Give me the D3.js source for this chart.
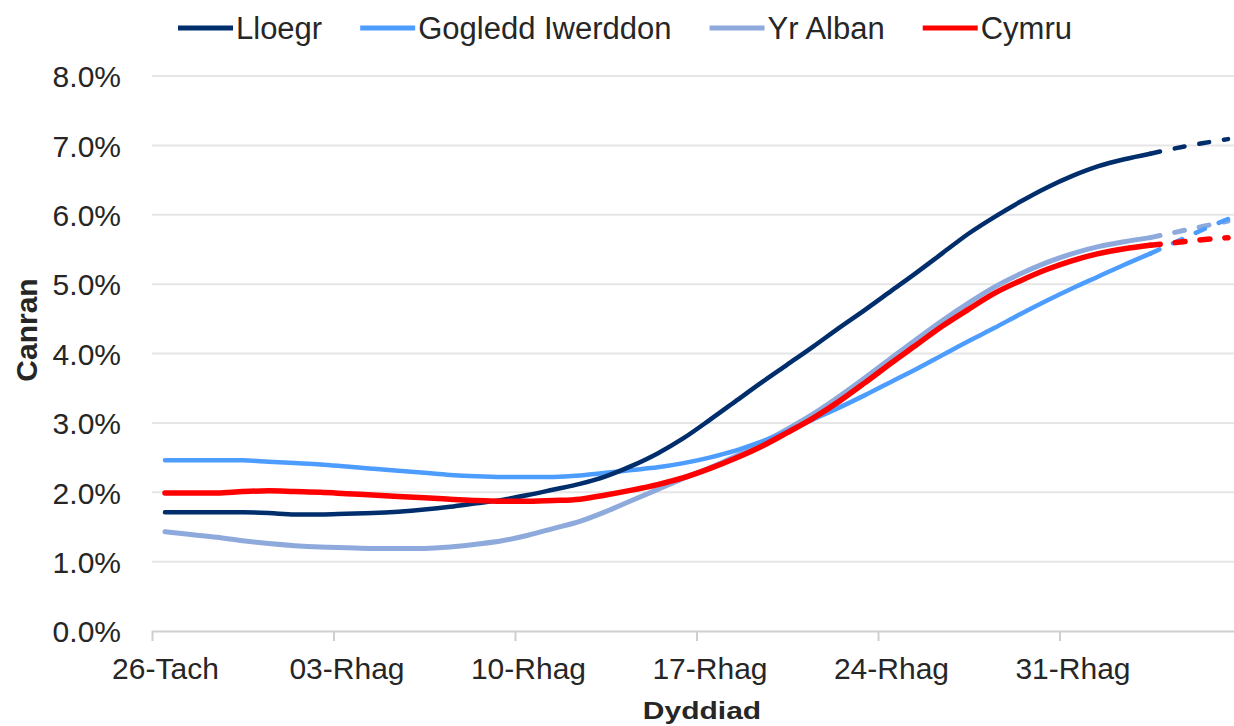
<!DOCTYPE html>
<html lang="cy">
<head>
<meta charset="UTF-8">
<title>Canran yn ôl gwlad</title>
<script src="https://d3js.org/d3.v7.min.js"></script>
<style>
  body { margin: 0; background: #fff; }
  svg text { font-family: "Liberation Sans", Arial, sans-serif; fill: #262626; }
  .grid line { stroke: #e6e6e6; stroke-width: 2; }
  .x-axis .domain { stroke: #cfcfcf; stroke-width: 2; }
  .x-axis .tick line { stroke: #cfcfcf; stroke-width: 2; }
  .axis text { font-size: 30px; }
  .title { font-size: 30px; font-weight: bold; }
  .legend text { font-size: 31px; }
</style>
</head>
<body>
<div id="chart"></div>
<script>
// one value per day, starting 26 Nov; the last values are projections (dashed)
const tickLabels = ["26-Tach", "03-Rhag", "10-Rhag", "17-Rhag", "24-Rhag", "31-Rhag"];
const seriesNames = ["Lloegr", "Gogledd Iwerddon", "Yr Alban", "Cymru"];
const projectionStart = 38;

const lloegr = [1.71, 1.71, 1.71, 1.71, 1.70, 1.68, 1.68, 1.69, 1.70, 1.72,
  1.75, 1.79, 1.84, 1.89, 1.96, 2.04, 2.12, 2.23, 2.38, 2.56,
  2.78, 3.04, 3.31, 3.58, 3.84, 4.10, 4.37, 4.63, 4.90, 5.17,
  5.45, 5.73, 5.97, 6.19, 6.39, 6.56, 6.70, 6.80, 6.88, 6.96,
  7.03, 7.09];
const gogleddIwerddon = [2.46, 2.46, 2.46, 2.46, 2.44, 2.42, 2.40, 2.37, 2.34, 2.31,
  2.28, 2.25, 2.23, 2.22, 2.22, 2.22, 2.24, 2.28, 2.32, 2.36,
  2.42, 2.50, 2.60, 2.73, 2.88, 3.05, 3.22, 3.40, 3.59, 3.78,
  3.98, 4.18, 4.37, 4.57, 4.76, 4.94, 5.11, 5.28, 5.44, 5.61,
  5.78, 5.94];
const yrAlban = [1.43, 1.39, 1.35, 1.30, 1.26, 1.23, 1.21, 1.20, 1.19, 1.19,
  1.19, 1.21, 1.25, 1.30, 1.38, 1.48, 1.58, 1.72, 1.88, 2.04,
  2.20, 2.35, 2.52, 2.71, 2.91, 3.13, 3.38, 3.65, 3.93, 4.21,
  4.48, 4.73, 4.96, 5.15, 5.31, 5.44, 5.54, 5.61, 5.67, 5.75,
  5.83, 5.91];
const cymru = [1.99, 1.99, 1.99, 2.01, 2.02, 2.01, 2.00, 1.98, 1.96, 1.94,
  1.92, 1.90, 1.88, 1.87, 1.87, 1.88, 1.90, 1.96, 2.03, 2.11,
  2.21, 2.34, 2.49, 2.66, 2.86, 3.07, 3.31, 3.58, 3.86, 4.13,
  4.40, 4.64, 4.87, 5.05, 5.21, 5.34, 5.44, 5.51, 5.56, 5.60,
  5.64, 5.67];

const colors = {
  "Lloegr": "#002d6b",
  "Gogledd Iwerddon": "#4d9dff",
  "Yr Alban": "#8eaadc",
  "Cymru": "#ff0000"
};
const widths = { "Lloegr": 4.5, "Gogledd Iwerddon": 4.5, "Yr Alban": 5, "Cymru": 5.5 };

const seriesData = {
  "Lloegr": lloegr,
  "Gogledd Iwerddon": gogleddIwerddon,
  "Yr Alban": yrAlban,
  "Cymru": cymru
};
// draw order: Cymru on top
const drawOrder = ["Yr Alban", "Gogledd Iwerddon", "Lloegr", "Cymru"];

const W = 1234, H = 726;
const svg = d3.select("#chart").append("svg")
    .attr("width", W)
    .attr("height", H);

const x = d3.scaleLinear().domain([0, 42]).range([152, 1241]);
const y = d3.scaleLinear().domain([0, 8]).range([631, 76]);
const halfDay = (x(1) - x(0)) / 2;

// gridlines
svg.append("g")
    .attr("class", "grid")
  .selectAll("line")
  .data(d3.range(1, 9))
  .enter().append("line")
    .attr("x1", x(0))
    .attr("x2", W)
    .attr("y1", d => y(d))
    .attr("y2", d => y(d));

// x axis
const xAxis = svg.append("g")
    .attr("class", "axis x-axis")
    .attr("transform", `translate(0,${y(0)})`)
    .call(d3.axisBottom(x)
        .tickValues(d3.range(0, 42, 7))
        .tickSize(10)
        .tickSizeOuter(0)
        .tickFormat((d, i) => tickLabels[i]));
xAxis.selectAll(".tick text")
    .attr("x", halfDay)
    .attr("y", 48)
    .attr("dy", null);

// y axis (labels only)
const yAxis = svg.append("g")
    .attr("class", "axis y-axis")
    .attr("transform", `translate(${x(0)},0)`)
    .call(d3.axisLeft(y)
        .tickValues(d3.range(0, 9))
        .tickSize(0)
        .tickFormat(d => d.toFixed(1) + "%"));
yAxis.select(".domain").remove();
yAxis.selectAll(".tick text")
    .attr("x", -31)
    .attr("dy", "0.36em");

// axis titles
svg.append("text")
    .attr("class", "title")
    .attr("text-anchor", "middle")
    .attr("transform", "translate(702,719) scale(1,0.82)")
    .text("Dyddiad");

svg.append("text")
    .attr("class", "title")
    .attr("text-anchor", "middle")
    .attr("transform", "translate(37,330) rotate(-90)")
    .text("Canran");

// lines
const line = d3.line()
    .x(d => x(d.day + 0.5))
    .y(d => y(d.value))
    .curve(d3.curveMonotoneX);

const lines = svg.append("g").attr("class", "lines");
drawOrder.forEach(name => {
  const pts = seriesData[name].map((v, i) => ({day: i, value: v}));
  lines.append("path")
      .datum(pts.slice(0, projectionStart + 1))
      .attr("fill", "none")
      .attr("stroke", colors[name])
      .attr("stroke-width", widths[name])
      .attr("stroke-linecap", "round")
      .attr("d", line);
});
drawOrder.forEach(name => {
  const pts = seriesData[name].map((v, i) => ({day: i, value: v}));
  lines.append("path")
      .datum(pts.slice(projectionStart))
      .attr("fill", "none")
      .attr("stroke", colors[name])
      .attr("stroke-width", widths[name])
      .attr("stroke-linecap", "round")
      .attr("stroke-dasharray", "10,15")
      .attr("d", line);
});

// legend
const legend = svg.append("g").attr("class", "legend");
let lx = 178;
seriesNames.forEach(name => {
  const g = legend.append("g").attr("transform", `translate(${lx},28)`);
  g.append("line")
      .attr("x1", 0)
      .attr("x2", 55)
      .attr("stroke", colors[name])
      .attr("stroke-width", 5);
  const t = g.append("text")
      .attr("x", 58)
      .attr("dy", "0.35em")
      .text(name);
  lx += 58 + t.node().getComputedTextLength() + 38;
});
</script>
</body>
</html>
